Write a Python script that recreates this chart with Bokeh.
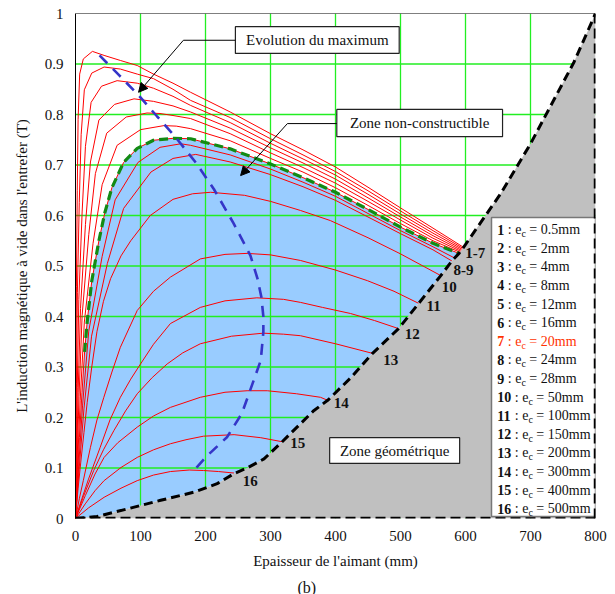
from bokeh.plotting import figure
from bokeh.models import Range1d, FixedTicker, Arrow, NormalHead, Title, ColumnDataSource
from bokeh.core.properties import value
from bokeh.embed import file_html
from bokeh.resources import INLINE

# ---------------- data ----------------
# x : Epaisseur de l'aimant (mm), y : induction (T)
c1_x = [0, 0.22, 0.7, 1.4, 2.7, 4, 6.4, 12, 26, 44, 69, 95, 120, 150, 177, 238, 300, 350, 400, 450, 500, 550, 597]
c1_y = [0, 0.09, 0.28, 0.46, 0.65, 0.79, 0.88, 0.91, 0.925, 0.917, 0.907, 0.897, 0.880, 0.862, 0.844, 0.805, 0.762, 0.730, 0.696, 0.656, 0.615, 0.575, 0.537]
c2_x = [0, 0.5, 1.5, 2.9, 5.8, 8.7, 13.6, 25, 44, 69, 95, 120, 150, 177, 238, 300, 350, 400, 450, 500, 550, 596]
c2_y = [0, 0.089, 0.268, 0.447, 0.626, 0.760, 0.849, 0.882, 0.894, 0.890, 0.880, 0.871, 0.850, 0.828, 0.794, 0.752, 0.720, 0.687, 0.649, 0.609, 0.570, 0.535]
c3_x = [0, 0.84, 2.7, 5.1, 10.2, 15.3, 24, 40, 64, 95, 120, 150, 177, 238, 300, 350, 400, 450, 500, 550, 595]
c3_y = [0, 0.087, 0.260, 0.434, 0.607, 0.737, 0.824, 0.856, 0.867, 0.862, 0.852, 0.836, 0.818, 0.784, 0.743, 0.712, 0.680, 0.642, 0.603, 0.565, 0.533]
c4_x = [0, 1.3, 4, 7.7, 15.3, 23, 36, 60, 90, 120, 150, 177, 238, 300, 350, 400, 450, 500, 550, 594]
c4_y = [0, 0.083, 0.249, 0.416, 0.582, 0.706, 0.789, 0.820, 0.831, 0.826, 0.817, 0.805, 0.773, 0.734, 0.704, 0.672, 0.635, 0.597, 0.560, 0.531]
c5_x = [0, 1.7, 5.4, 10.2, 20.4, 30.6, 48, 78, 110, 130, 150, 177, 238, 300, 350, 400, 450, 500, 550, 593]
c5_y = [0, 0.080, 0.241, 0.402, 0.562, 0.683, 0.763, 0.795, 0.803, 0.802, 0.798, 0.792, 0.762, 0.724, 0.695, 0.664, 0.628, 0.591, 0.555, 0.529]
c6_x = [0, 2.2, 7.2, 13.6, 27, 41, 64, 100, 136, 155, 177, 238, 300, 350, 400, 450, 500, 550, 592]
c6_y = [0, 0.078, 0.233, 0.389, 0.545, 0.661, 0.739, 0.770, 0.778, 0.777, 0.772, 0.748, 0.713, 0.686, 0.655, 0.620, 0.584, 0.550, 0.527]
c7_x = [0, 3, 6, 10, 14, 18, 25, 36, 45, 56, 74, 95, 120, 151, 177, 238, 300, 350, 400, 450, 500, 550, 590]
c7_y = [0, 0.08, 0.16, 0.25, 0.33, 0.39, 0.47, 0.55, 0.605, 0.655, 0.705, 0.733, 0.749, 0.753, 0.752, 0.732, 0.702, 0.675, 0.646, 0.612, 0.577, 0.545, 0.525]
c8_x = [0, 3.4, 10.8, 20.4, 41, 61, 96, 130, 162, 177, 238, 300, 350, 400, 450, 500, 550, 583]
c8_y = [0, 0.074, 0.223, 0.371, 0.519, 0.631, 0.705, 0.735, 0.742, 0.739, 0.720, 0.692, 0.666, 0.638, 0.604, 0.570, 0.538, 0.516]
c9_x = [0, 4, 13, 24.7, 49, 74, 116, 150, 185, 238, 300, 350, 400, 450, 500, 550, 579]
c9_y = [0, 0.072, 0.217, 0.361, 0.505, 0.614, 0.686, 0.713, 0.721, 0.706, 0.681, 0.657, 0.630, 0.597, 0.564, 0.532, 0.510]
c10_x = [0, 4, 8, 13, 18, 25, 33, 43, 54, 70, 85, 115, 150, 180, 208, 260, 300, 346, 392, 450, 500, 562]
c10_y = [0, 0.06, 0.11, 0.17, 0.23, 0.30, 0.37, 0.43, 0.475, 0.52, 0.55, 0.60, 0.632, 0.643, 0.646, 0.640, 0.628, 0.610, 0.590, 0.556, 0.524, 0.481]
c11_x = [0, 6, 12, 23, 33, 43.6, 56, 69, 95, 120, 146, 192, 230, 264, 300, 346, 400, 449, 490, 528]
c11_y = [0, 0.04, 0.075, 0.141, 0.195, 0.24, 0.29, 0.339, 0.412, 0.45, 0.478, 0.514, 0.523, 0.525, 0.522, 0.511, 0.492, 0.471, 0.450, 0.426]
c12_x = [0, 10, 20, 38, 53, 69, 85, 100, 120, 146, 192, 230, 279, 320, 346, 380, 423, 460, 497]
c12_y = [0, 0.04, 0.078, 0.141, 0.195, 0.24, 0.276, 0.306, 0.345, 0.386, 0.418, 0.431, 0.437, 0.434, 0.428, 0.418, 0.406, 0.392, 0.376]
c13_x = [0, 12, 28, 43, 59, 77, 95, 118, 141, 165, 192, 240, 289, 320, 346, 400, 457]
c13_y = [0, 0.043, 0.095, 0.136, 0.174, 0.213, 0.247, 0.279, 0.306, 0.328, 0.346, 0.361, 0.367, 0.365, 0.362, 0.346, 0.327]
c14_x = [0, 15, 30, 44, 65, 95, 120, 146, 192, 230, 264, 295, 340, 377, 388]
c14_y = [0, 0.045, 0.088, 0.121, 0.150, 0.181, 0.203, 0.220, 0.240, 0.250, 0.253, 0.253, 0.247, 0.240, 0.234]
c15_x = [0, 15, 30, 44, 70, 95, 120, 146, 170, 197, 244, 285, 318]
c15_y = [0, 0.029, 0.055, 0.075, 0.101, 0.121, 0.136, 0.148, 0.156, 0.163, 0.166, 0.160, 0.152]
c16_x = [0, 20, 44, 70, 95, 120, 146, 175, 197, 220, 244]
c16_y = [0, 0.021, 0.042, 0.060, 0.075, 0.086, 0.093, 0.096, 0.095, 0.093, 0.090]

# "Evolution du maximum"
max_x = [37, 67, 97, 125, 154, 185, 213, 243, 269, 280, 286, 289, 289, 285, 274, 256, 233, 200, 180]
max_y = [0.917, 0.878, 0.838, 0.797, 0.755, 0.705, 0.652, 0.585, 0.521, 0.475, 0.438, 0.40, 0.369, 0.313, 0.273, 0.208, 0.161, 0.121, 0.092]

# geometric limit
geo_x = [0, 33, 80, 131, 182, 218, 244, 264, 290, 318, 340, 367, 388, 423, 457, 497, 528, 562, 579, 590, 597, 654, 700, 767, 800]
geo_y = [0, 0.004, 0.019, 0.036, 0.052, 0.069, 0.089, 0.100, 0.118, 0.152, 0.180, 0.214, 0.234, 0.278, 0.327, 0.376, 0.426, 0.481, 0.510, 0.525, 0.537, 0.643, 0.742, 0.904, 1.0]

leg_num = ["1", "2", "3", "4", "5", "6", "7", "8", "9", "10", "11", "12", "13", "14", "15", "16"]
leg_ec = ["0.5mm", "2mm", "4mm", "8mm", "12mm", "16mm", "20mm", "24mm", "28mm",
          "50mm", "100mm", "150mm", "200mm", "300mm", "400mm", "500mm"]
curve_tags = ["1-7", "8-9", "10", "11", "12", "13", "14", "15", "16"]

x_ticks = [0, 100, 200, 300, 400, 500, 600, 700, 800]
y_ticks = [0, 0.1, 0.2, 0.3, 0.4, 0.5, 0.6, 0.7, 0.8, 0.9, 1]
y_tick_labels = ["0", "0.1", "0.2", "0.3", "0.4", "0.5", "0.6", "0.7", "0.8", "0.9", "1"]

curves = [(c1_x, c1_y), (c2_x, c2_y), (c3_x, c3_y), (c4_x, c4_y), (c5_x, c5_y), (c6_x, c6_y),
          (c7_x, c7_y), (c8_x, c8_y), (c9_x, c9_y), (c10_x, c10_y), (c11_x, c11_y),
          (c12_x, c12_y), (c13_x, c13_y), (c14_x, c14_y), (c15_x, c15_y), (c16_x, c16_y)]

# ---------------- figure ----------------
SERIF = "Liberation Serif"
p = figure(frame_width=520, frame_height=505, output_backend="svg", toolbar_location=None,
           x_range=Range1d(0, 800), y_range=Range1d(0, 1),
           min_border_left=75, min_border_right=13, min_border_top=13, min_border_bottom=50)
p.outline_line_color = None
p.background_fill_color = "white"
p.xgrid.visible = False
p.ygrid.visible = False

for ax in (p.xaxis[0], p.yaxis[0]):
    ax.major_tick_out = 0
    ax.major_tick_in = 0
    ax.minor_tick_out = 0
    ax.minor_tick_in = 0
    ax.major_label_text_font = SERIF
    ax.major_label_text_font_size = "15px"
    ax.major_label_text_color = "#111111"
    ax.axis_label_text_font = SERIF
    ax.axis_label_text_font_size = "15px"
    ax.axis_label_text_font_style = "normal"
    ax.axis_label_text_color = "#111111"
    ax.major_label_standoff = 12

p.xaxis.ticker = FixedTicker(ticks=x_ticks)
p.yaxis.ticker = FixedTicker(ticks=y_ticks)
p.yaxis.major_label_overrides = {t: l for t, l in zip(y_ticks, y_tick_labels)}
p.xaxis.axis_line_color = None
p.yaxis.axis_line_color = "black"
p.xaxis.axis_label = "Epaisseur de l'aimant (mm)"
p.yaxis.axis_label = "L'induction magnétique à vide dans l'entrefer (T)"
p.xaxis.axis_label_standoff = 9
p.yaxis.axis_label_standoff = 12

# blue zone under curve 7
lim_idx = geo_x.index(c7_x[-1])
blue_x = c7_x + geo_x[:lim_idx + 1][::-1]
blue_y = c7_y + geo_y[:lim_idx + 1][::-1]
p.patch(blue_x, blue_y, fill_color="#99ccff", line_color=None)

# grid
gx = x_ticks[1:-1]
gy = y_ticks[1:-1]
p.segment(x0=gx, y0=[0] * len(gx), x1=gx, y1=[1] * len(gx), line_color="#22ee22", line_width=1.3)
p.segment(x0=[0] * len(gy), y0=gy, x1=[800] * len(gy), y1=gy, line_color="#22ee22", line_width=1.3)

# red curves
for cx, cy in curves:
    p.line(cx, cy, line_color="#ff0000", line_width=1)
# curve 7 highlighted
p.line(c7_x[4:], c7_y[4:], line_color="#138a13", line_width=3.2, line_dash="9 5")

# evolution of the maximum
p.line(max_x, max_y, line_color="#3535c8", line_width=2.6, line_dash="11 8")

# geometric zone
p.patch(geo_x + [800], geo_y + [0], fill_color="#c0c0c0", line_color=None)
p.line(geo_x, geo_y, line_color="black", line_width=3, line_dash="9 5")
p.line([0, 800], [0, 0], line_color="black", line_width=3.5, line_dash="10 5")
p.line([0, 800], [1, 1], line_color="black", line_width=1)

# legend box
p.quad(left=640, right=800, bottom=0.004, top=0.596, fill_color="white",
       line_color="#777777", line_width=1.5)
rows = list(range(len(leg_num)))
num_w = [7.0 * len(n) for n in leg_num]
leg_src = ColumnDataSource(dict(
    x=[649] * len(rows),
    y=[0.572 - i * 0.03685 for i in rows],
    num=leg_num,
    mid=[": e"] * len(rows),
    sub=["c"] * len(rows),
    val=["= " + v for v in leg_ec],
    o1=[w + 3.5 for w in num_w],
    o2=[w + 17.1 for w in num_w],
    o3=[w + 25.0 for w in num_w],
    color=["#ff3300" if n == "7" else "#111111" for n in leg_num],
))
common = dict(x="x", y="y", text_font=value(SERIF), text_baseline="middle",
              text_color="color", source=leg_src)
p.text(text="num", text_font_style="bold", text_font_size="14px", **common)
p.text(text="mid", x_offset="o1", text_font_size="14px", **common)
p.text(text="sub", x_offset="o2", y_offset=4, text_font_size="10px", **common)
p.text(text="val", x_offset="o3", text_font_size="14px", **common)

# right border (dashed, over legend)
p.line([800, 800], [0, 1], line_color="black", line_width=3.5, line_dash="10 5")

# curve tags
tag_x = [615, 597, 575, 551, 518, 485, 409, 342, 269]
tag_y = [0.525, 0.493, 0.459, 0.420, 0.366, 0.313, 0.228, 0.149, 0.075]
p.text(x=tag_x, y=tag_y, text=curve_tags, text_font=value(SERIF), text_font_style="bold",
       text_font_size="15px", text_align="center", text_baseline="middle", text_color="#111111")

# annotation boxes
box_l = [246, 402, 391]
box_r = [498, 657, 591]
box_b = [0.921, 0.756, 0.109]
box_t = [0.974, 0.810, 0.160]
box_txt = ["Evolution du maximum", "Zone non-constructible", "Zone géométrique"]
p.quad(left=box_l, right=box_r, bottom=box_b, top=box_t, fill_color="white",
       line_color="#222222", line_width=1.2)
p.text(x=[(a + b) / 2 for a, b in zip(box_l, box_r)], y=[(a + b) / 2 for a, b in zip(box_b, box_t)],
       text=box_txt, text_font=value(SERIF), text_font_size="15px", text_align="center",
       text_baseline="middle", text_color="#111111")

# arrows
p.line([246, 166], [0.947, 0.947], line_color="black", line_width=1)
p.add_layout(Arrow(end=NormalHead(size=9, fill_color="black", line_color="black"),
                   x_start=166, y_start=0.947, x_end=97, y_end=0.844,
                   line_color="black", line_width=1))
p.line([402, 326], [0.782, 0.782], line_color="black", line_width=1)
p.add_layout(Arrow(end=NormalHead(size=9, fill_color="black", line_color="black"),
                   x_start=326, y_start=0.782, x_end=254, y_end=0.679,
                   line_color="black", line_width=1))

p.add_layout(Title(text="(b)", align="left", offset=222, text_font=SERIF,
                   text_font_size="16px", text_font_style="normal", text_color="#111111"), "below")

open("out.html", "w").write(file_html(p, INLINE))
